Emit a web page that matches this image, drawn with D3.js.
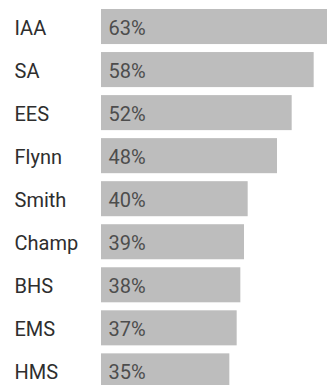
<!DOCTYPE html>
<html>
<head>
<meta charset="utf-8">
<script src="https://cdn.jsdelivr.net/npm/d3@7"></script>
<style>
  html, body { margin: 0; padding: 0; background: #fff; overflow: hidden; }
  svg { display: block; }
  text { font-family: Roboto, "Noto Sans", sans-serif; font-size: 20px; }
</style>
</head>
<body>
<svg id="chart" width="327" height="385"></svg>
<script>
// School names and their shares (percent)
const schools = ["IAA", "SA", "EES", "Flynn", "Smith", "Champ", "BHS", "EMS", "HMS"];
const shares = [63, 58, 52, 48, 40, 39, 38, 37, 35];

const svg = d3.select("#chart");

const x = d3.scaleLinear().domain([0, 63]).range([101, 332]);
const y = d3.scaleBand()
  .domain(schools)
  .range([5, 392.4])
  .paddingInner(0.186)
  .paddingOuter(0.093);

const rows = svg.selectAll("g.row")
  .data(schools.map((s, i) => ({ name: s, value: shares[i] })))
  .join("g")
  .attr("class", "row");

rows.append("rect")
  .attr("x", x(0))
  .attr("y", d => y(d.name))
  .attr("width", d => x(d.value) - x(0))
  .attr("height", y.bandwidth())
  .attr("fill", "#bdbdbd");

rows.append("text")
  .attr("x", 14.5)
  .attr("y", d => y(d.name) + y.bandwidth() / 2 + 8.3)
  .attr("fill", "#2e2e2e")
  .text(d => d.name);

rows.append("text")
  .attr("x", x(0) + 7.5)
  .attr("y", d => y(d.name) + y.bandwidth() / 2 + 8.3)
  .attr("fill", "#4d4d4d")
  .text(d => d.value + "%");
</script>
</body>
</html>
